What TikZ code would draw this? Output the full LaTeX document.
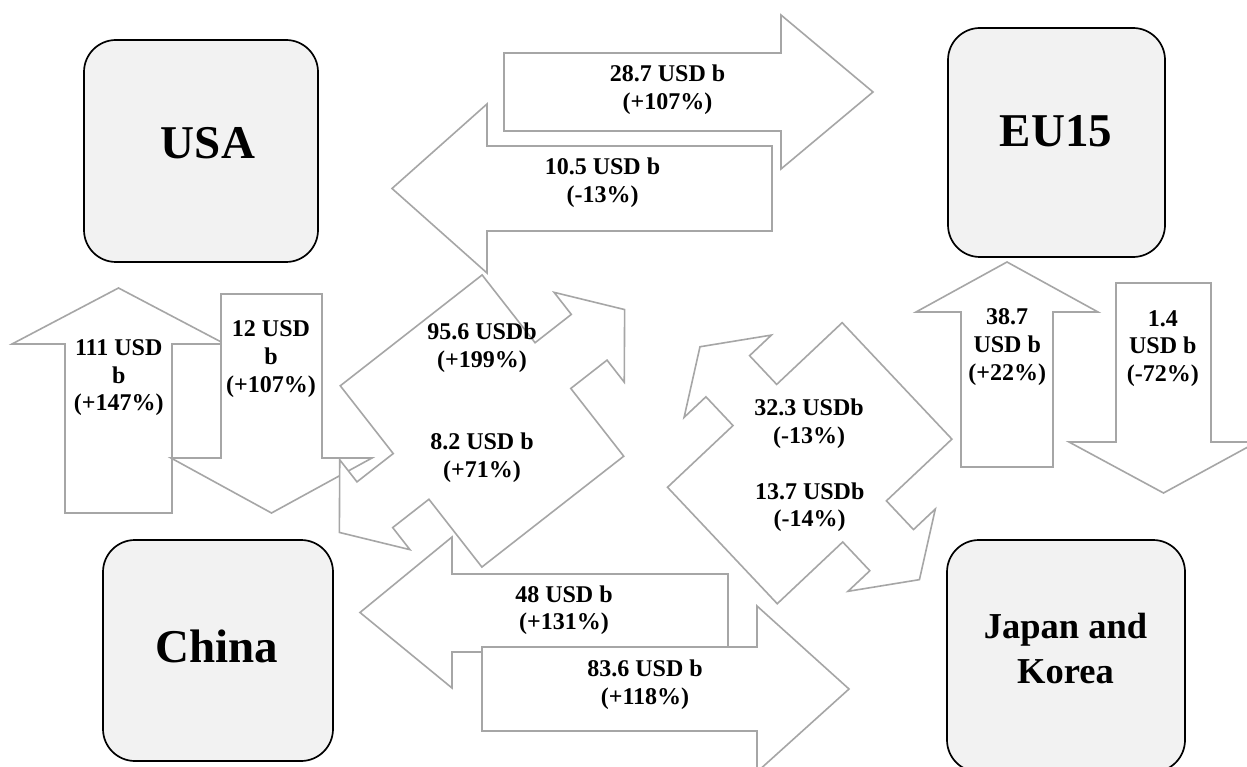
\documentclass[tikz,border=0pt]{standalone}
\usepackage{fontspec}
\setmainfont{Liberation Serif}
\definecolor{arrowgray}{HTML}{A6A6A6}
\definecolor{boxgray}{HTML}{F2F2F2}
\tikzset{
  flow/.style={draw=arrowgray, fill=white, line width=1.6pt, line join=miter},
  region/.style={draw=black, fill=boxgray, line width=1.7pt, rounded corners=32pt, inner sep=0pt},
  lbl/.style={font=\fontsize{24}{27.8}\selectfont\bfseries, align=center, inner sep=0pt},
  big/.style={font=\fontsize{47}{56}\selectfont\bfseries, align=center, inner sep=0pt},
  mid/.style={font=\fontsize{36.5}{45}\selectfont\bfseries, align=center, inner sep=0pt}
}
\begin{document}
\begin{tikzpicture}[x=1pt,y=-1pt]
\useasboundingbox (0,0) rectangle (1247,767);
\clip (0,0) rectangle (1247,767);
\fill[white] (0,0) rectangle (1247,767);

% region boxes
\node[region, minimum width=234pt, minimum height=222pt] (usa) at (201,151) {};
\node[region, minimum width=217pt, minimum height=229pt] (eu) at (1056.5,142.5) {};
\node[region, minimum width=230pt, minimum height=221pt] (china) at (218,650.5) {};
\node[region, minimum width=238pt, minimum height=232pt] (jk) at (1066,656) {};

% USA <-> EU15
\draw[flow] (504,53) -- (781,53) -- (781,15) -- (873,92) -- (781,169) -- (781,131) -- (504,131) -- cycle;
\draw[flow] (772,146) -- (487,146) -- (487,104) -- (392,188.5) -- (487,273) -- (487,231) -- (772,231) -- cycle;

% USA <-> China
\draw[flow] (65,513) -- (65,344) -- (12,344) -- (118.5,288) -- (225,344) -- (172,344) -- (172,513) -- cycle;
\draw[flow] (221,294) -- (322,294) -- (322,458) -- (372,458) -- (271.5,513) -- (171,458) -- (221,458) -- cycle;

% China <-> EU15 (left-right arrow callout)
\begin{scope}[shift={(482,421)}, rotate=38]
\draw[flow] (90,-115) -- (90,-29) -- (136,-29) -- (136,-57) -- (181,0) -- (136,57) -- (136,29) -- (90,29)
  -- (90,115) -- (-90,115) -- (-90,29) -- (-136,29) -- (-136,57) -- (-181,0) -- (-136,-57) -- (-136,-29)
  -- (-90,-29) -- (-90,-115) -- cycle;
\end{scope}

% USA <-> Japan and Korea (left-right arrow callout)
\begin{scope}[shift={(809.7,463.2)}, rotate=133.3]
\draw[flow] (80,-120) -- (80,-30) -- (119.5,-30) -- (119.5,-60) -- (160,0) -- (119.5,60) -- (119.5,30) -- (80,30)
  -- (80,120) -- (-80,120) -- (-80,30) -- (-119.5,30) -- (-119.5,60) -- (-160,0) -- (-119.5,-60) -- (-119.5,-30)
  -- (-80,-30) -- (-80,-120) -- cycle;
\end{scope}

% EU15 <-> Japan and Korea
\draw[flow] (961,467) -- (961,312) -- (916,312) -- (1007,262) -- (1098,312) -- (1053,312) -- (1053,467) -- cycle;
\draw[flow] (1116,283) -- (1211,283) -- (1211,442) -- (1257,442) -- (1163.5,493) -- (1069,442) -- (1116,442) -- cycle;

% China <-> Japan and Korea
\draw[flow] (728,574) -- (452,574) -- (452,537) -- (360,612.5) -- (452,688) -- (452,652) -- (728,652) -- cycle;
\draw[flow] (482,647) -- (757,647) -- (757,606) -- (849,689) -- (757,772) -- (757,731) -- (482,731) -- cycle;

% region labels
\node[big] (usat) at (208,143) {USA};
\node[big] (eut) at (1056,131.5) {EU15};
\node[big] (cht) at (217,646) {China};
\node[mid] (jkt) at (1065.5,648.7) {Japan and\\Korea};

% flow labels
\node[lbl] (t287) at (667.5,89.8) {28.7 USD b\\(+107\%)};
\node[lbl] (t105) at (602.5,183) {10.5 USD b\\(-13\%)};
\node[lbl] (t48) at (564,610.3) {48 USD b\\(+131\%)};
\node[lbl] (t836) at (645,684.7) {83.6 USD b\\(+118\%)};
\node[lbl] (t956) at (482,348) {95.6 USDb\\(+199\%)};
\node[lbl] (t82) at (482,458) {8.2 USD b\\(+71\%)};
\node[lbl] (t323) at (809,424) {32.3 USDb\\(-13\%)};
\node[lbl] (t137) at (809.7,507.3) {13.7 USDb\\(-14\%)};
\node[lbl] (t111) at (118.7,377.8) {111 USD\\b\\(+147\%)};
\node[lbl] (t12) at (271,359.1) {12 USD\\b\\(+107\%)};
\node[lbl] (t387) at (1007.2,346.8) {38.7\\USD b\\(+22\%)};
\node[lbl] (t14) at (1162.8,348.5) {1.4\\USD b\\(-72\%)};
\end{tikzpicture}
\end{document}
